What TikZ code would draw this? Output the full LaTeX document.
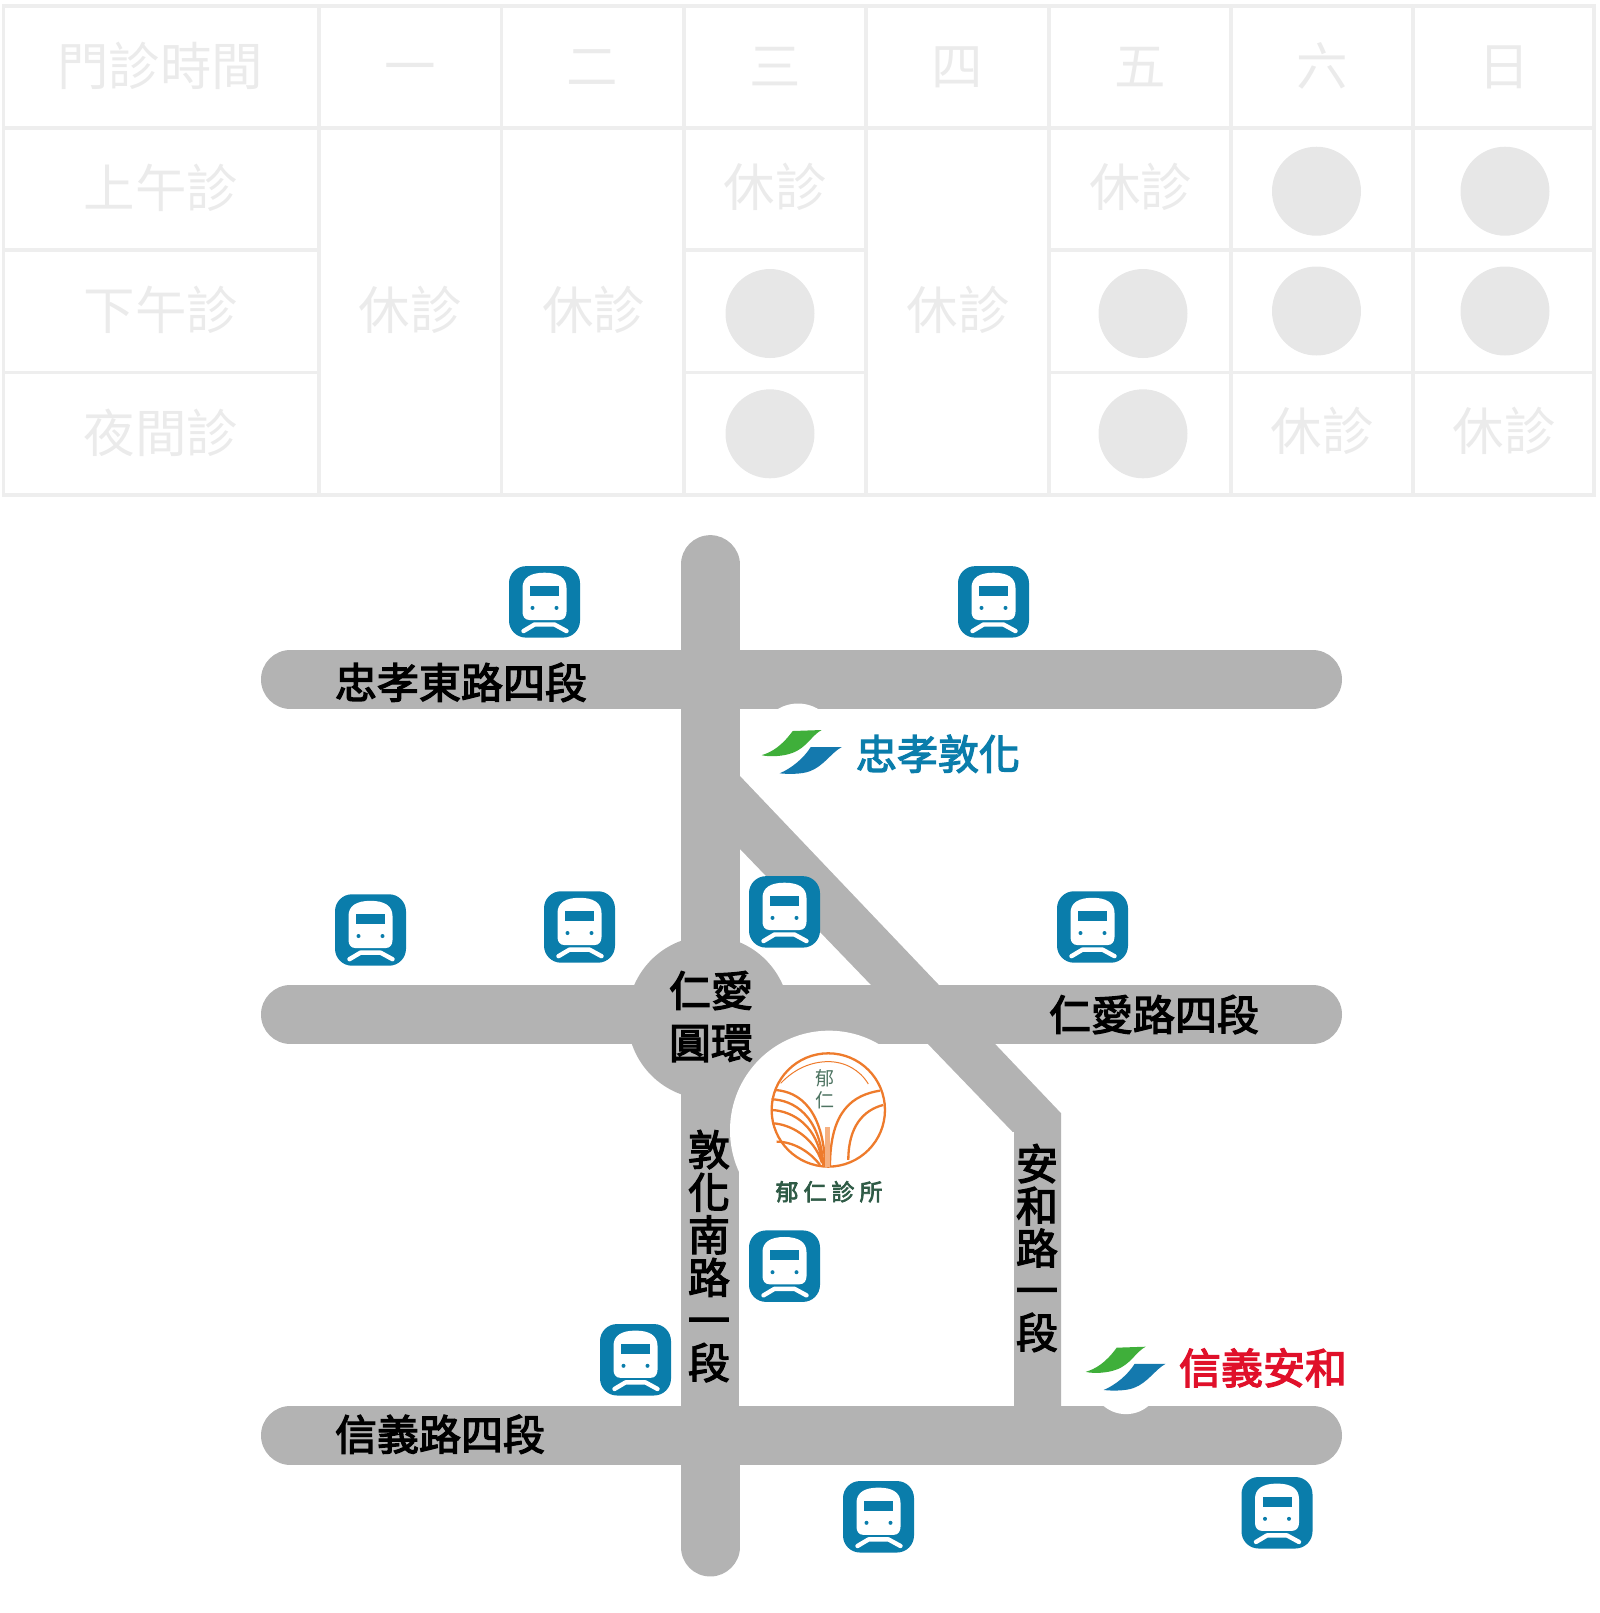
\documentclass[tikz,border=0pt]{standalone}
\usepackage{fontspec}
\setmainfont{Noto Sans CJK TC}
\newfontfamily\medcjk[FakeBold=3]{Noto Sans CJK TC}
\definecolor{gridc}{HTML}{EEEEEE}
\definecolor{dotc}{HTML}{E7E7E7}
\definecolor{txtc}{HTML}{EBEBEB}
\definecolor{roadc}{HTML}{B3B3B3}
\definecolor{tblue}{HTML}{0A7DAB}
\definecolor{mgreen}{HTML}{3FAF3A}
\definecolor{mblue}{HTML}{1479AE}
\definecolor{mred}{HTML}{E0102A}
\definecolor{lorange}{HTML}{EE7B2C}
\definecolor{lgreen}{HTML}{2F5B46}
\tikzset{
  x=1pt,y=-1.0065pt,
  gridline/.style={draw=gridc,line width=3.3pt},
  tbltxt/.style={text=txtc,font=\fontsize{51.5}{51.5}\selectfont,inner sep=0pt,anchor=center,text height=45.3pt,text depth=6.2pt},
  dot/.style={circle,fill=dotc,minimum size=89pt,inner sep=0pt},
  road/.style={draw=roadc,line width=59pt,line cap=round},
  rdtxt/.style={text=black,font=\medcjk\fontsize{42}{42}\selectfont,inner sep=0pt,anchor=center,text height=37pt,text depth=5pt},
  vtxt/.style={text=black,inner sep=0pt,anchor=center,align=center},
  pics/train/.style={code={
    \fill[tblue,rounded corners=17pt] (-35.5,-35.5) rectangle (35.5,35.5);
    \fill[white] (-22,10) .. controls (-22,14) and (-20,18) .. (-15,18) -- (15,18) .. controls (20,18) and (22,14) .. (22,10) -- (22,-14) .. controls (22,-24) and (14,-29) .. (0,-29) .. controls (-14,-29) and (-22,-24) .. (-22,-14) -- cycle;
    \fill[tblue] (-14.5,-16) rectangle (14.5,-6);
    \fill[tblue] (-12,6) circle (2);
    \fill[tblue] (12,6) circle (2);
    \draw[white,line width=4.4pt,line cap=round,line join=round] (-21,29) -- (-10,22.5) -- (10,22.5) -- (22,29);
  }},
  pics/metro/.style={code={
    \fill[mgreen] (0,25) .. controls (10,22) and (20,16) .. (31,1) -- (60,0) .. controls (50,5) and (45,18) .. (30,23) .. controls (22,26) and (8,27) .. (0,25) -- cycle;
    \fill[mblue] (18,43) .. controls (30,38) and (42,28) .. (49,17) -- (80,17) .. controls (70,22) and (62,36) .. (48,41) .. controls (40,44) and (26,44) .. (18,43) -- cycle;
  }}
}
\begin{document}
\begin{tikzpicture}
\useasboundingbox (0,0) rectangle (1600,1602.6);
% ---- table
\draw[gridline] (3.5,6) rectangle (1594,491.8);
\foreach \xx in {319,501.5,684,866,1049,1231,1413} \draw[gridline] (\xx,6) -- (\xx,491.8);
\draw[gridline] (3.5,127.2) -- (1594,127.2);
\draw[gridline] (3.5,248.5) -- (319,248.5);
\draw[gridline] (684,248.5) -- (866,248.5);
\draw[gridline] (1049,248.5) -- (1594,248.5);
\draw[gridline] (3.5,370) -- (319,370);
\draw[gridline] (684,370) -- (866,370);
\draw[gridline] (1049,370) -- (1594,370);
\node[tbltxt] (h0) at (160.5,66) {門診時間};
\node[tbltxt] (h1) at (410,66) {一};
\node[tbltxt] (h2) at (592.5,66) {二};
\node[tbltxt] (h3) at (775,66) {三};
\node[tbltxt] (h4) at (957,66) {四};
\node[tbltxt] (h5) at (1140.5,66) {五};
\node[tbltxt] (h6) at (1322,66) {六};
\node[tbltxt] (h7) at (1504,66) {日};
\node[tbltxt] (r1) at (161,187) {上午診};
\node[tbltxt] (r2) at (161,308) {下午診};
\node[tbltxt] (r3) at (161,430) {夜間診};
\node[tbltxt] (c1) at (410,307.5) {休診};
\node[tbltxt] (c2) at (593.5,307.5) {休診};
\node[tbltxt] (c4) at (958,307.5) {休診};
\node[tbltxt] (c3a) at (775,186) {休診};
\node[tbltxt] (c5a) at (1140.5,186) {休診};
\node[tbltxt] (c6c) at (1322,428) {休診};
\node[tbltxt] (c7c) at (1504,428) {休診};
\node[dot] (d3b) at (770,311.5) {};
\node[dot] (d3c) at (770,431) {};
\node[dot] (d5b) at (1143,311.5) {};
\node[dot] (d5c) at (1143,431) {};
\node[dot] (d6a) at (1316.5,190) {};
\node[dot] (d6b) at (1316.5,309) {};
\node[dot] (d7a) at (1505,190) {};
\node[dot] (d7b) at (1505,309) {};
% ---- roads
\draw[road] (710,561) -- (710,1537);
\draw[road] (290.5,675) -- (1312.5,675);
\draw[road] (290.5,1008) -- (1312.5,1008);
\draw[road] (290.5,1426) -- (1312.5,1426);
\fill[roadc] (739,770) -- (1061,1106) -- (1061,1400) -- (1014,1400) -- (1014,1126) -- (739,842.5) -- cycle;
\fill[roadc] (708.5,1011) circle (81);
% ---- white cut-outs
\fill[white] (829,1123) circle (99);
\fill[white] (739,1125) rectangle (1014,1396.5);
\fill[white] (798,739) circle (40);
\fill[white] (1126,1370) circle (35);
% ---- metro
\pic at (761.7,725.3) {metro};
\pic at (1085.7,1338) {metro};
\node[text=tblue,font=\medcjk\fontsize{41}{41}\selectfont,inner sep=0pt] (zd) at (938,749) {忠孝敦化};
\node[text=mred,font=\medcjk\fontsize{42}{42}\selectfont,inner sep=0pt] (xa) at (1263,1359) {信義安和};
% ---- road labels
\node[rdtxt] (l1) at (461,678) {忠孝東路四段};
\node[rdtxt] (l2) at (1154,1008) {仁愛路四段};
\node[rdtxt] (l3) at (440,1425) {信義路四段};
\node[vtxt,font=\medcjk\fontsize{42}{52}\selectfont] (l4) at (711,1010) {仁愛\\圓環};
\node[vtxt,font=\medcjk\fontsize{42}{42.6}\selectfont] (l5) at (709,1248) {敦\\化\\南\\路\\一\\段};
\node[vtxt,font=\medcjk\fontsize{42}{42.2}\selectfont] (l6) at (1037,1240) {安\\和\\路\\一\\段};
% ---- logo
\begin{scope}[shift={(720,1013.4)},x=0.3333pt,y=-0.3333pt,draw=lorange,line width=2.3pt]
\draw (325,270) circle [radius=170];
\draw[line width=1pt] (182,190) .. controls (225,145) and (275,125) .. (325,125) .. controls (375,125) and (420,150) .. (445,192);
\draw (165,210) .. controls (240,215) and (310,270) .. (316,440);
\draw (155,238) .. controls (220,240) and (300,285) .. (310,435);
\draw (153,270) .. controls (220,272) and (295,320) .. (306,430);
\draw (157,310) .. controls (210,312) and (280,350) .. (305,425);
\draw (170,365) .. controls (220,365) and (270,395) .. (300,435);
\draw (480,212) .. controls (400,225) and (330,270) .. (330,440);
\draw (490,255) .. controls (430,270) and (385,320) .. (385,420);
\fill[lorange!60] (316,320) -- (330,320) -- (330,440) -- (316,440) -- cycle;
\end{scope}
\node[text=lgreen!85,font=\fontsize{19}{22}\selectfont,inner sep=0pt,align=center] (lg1) at (825,1082) {郁\\仁};
\node[text=lgreen,font=\medcjk\fontsize{23}{23}\selectfont,inner sep=0pt] (lg2) at (829,1184) {郁\hspace{5pt}仁\hspace{5pt}診\hspace{5pt}所};
% ---- trains
\pic at (544.5,598) {train};
\pic at (993.5,598) {train};
\pic at (370.5,924) {train};
\pic at (579.5,921) {train};
\pic at (784.5,906) {train};
\pic at (1092.5,921) {train};
\pic at (784.5,1258) {train};
\pic at (635.5,1351) {train};
\pic at (878.5,1507) {train};
\pic at (1277,1503) {train};
\end{tikzpicture}
\end{document}
